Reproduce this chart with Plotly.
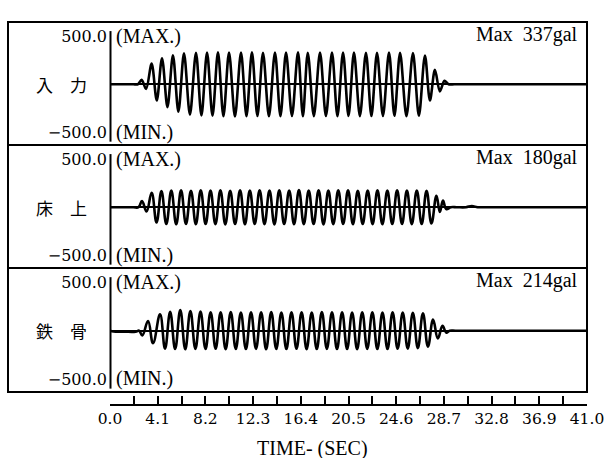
import plotly.graph_objects as go

# ---------------- data ----------------
panel_names = ["入\u3000力", "床\u3000上", "鉄\u3000骨"]
max_labels = ["Max\u00a0\u00a0337gal", "Max\u00a0\u00a0180gal", "Max\u00a0\u00a0214gal"]

# 入力 (input) : time of each extremum [s] and acceleration [gal]
t1 = [0.0, 1.0, 2.0, 2.40, 2.72, 3.10, 3.58, 4.02, 4.47, 4.94, 5.41, 5.88, 6.36, 6.87, 7.39, 7.86,
      8.34, 8.81, 9.28, 9.75, 10.23, 10.74, 11.26, 11.73, 12.20, 12.67, 13.15, 13.66,
      14.18, 14.65, 15.13, 15.64, 16.16, 16.58, 17.00, 17.52, 18.05, 18.56, 19.08, 19.55,
      20.03, 20.50, 20.97, 21.48, 22.00, 22.47, 22.95, 23.46, 23.98, 24.45, 24.93, 25.48,
      26.04, 26.55, 27.07, 27.50, 27.93, 28.35, 28.75, 29.10, 29.6, 31.0, 34.0, 37.0, 41.0]
a1 = [0, 0, 0, 0, 45, -50, 215, -170, 272, -240, 302, -288, 322, -318, 328, -326, 331, -330,
      333, -334, 332, -337, 330, -333, 334, -332, 329, -335, 332, -333, 330, -332, 333, -334,
      329, -333, 331, -332, 330, -334, 332, -331, 330, -333, 329, -332, 327, -331, 330, -330,
      328, -333, 325, -330, 300, -170, 150, -75, 35, 0, 0, 0, 0, 0, 0]

# 床上 (floor)
t2 = [0.0, 1.0, 2.0, 2.45, 2.75, 3.14, 3.58, 4.00, 4.42, 4.84, 5.27, 5.69, 6.11, 6.53, 6.96, 7.38,
      7.80, 8.22, 8.64, 9.06, 9.49, 9.91, 10.33, 10.75, 11.18, 11.60, 12.02, 12.44, 12.86,
      13.28, 13.71, 14.13, 14.55, 14.97, 15.40, 15.82, 16.24, 16.66, 17.08, 17.50, 17.93,
      18.35, 18.77, 19.19, 19.62, 20.04, 20.46, 20.88, 21.30, 21.72, 22.15, 22.57, 22.99,
      23.41, 23.84, 24.26, 24.68, 25.10, 25.52, 25.94, 26.37, 26.79, 27.21, 27.63, 28.06,
      28.35, 28.62, 28.90, 29.3, 29.8, 30.6, 31.1, 31.6, 32.2, 35.0, 38.0, 41.0]
a2 = [0, 0, 0, 0, 65, -45, 150, -160, 170, -176, 173, -178, 176, -175, 172, -178, 178, -176,
      174, -177, 176, -179, 172, -176, 177, -178, 174, -175, 178, -177, 173, -179, 176, -176,
      175, -178, 180, -177, 174, -176, 177, -179, 173, -177, 176, -175, 178, -178, 172, -176,
      175, -177, 177, -178, 174, -176, 176, -175, 173, -177, 175, -176, 172, -170, 120, -50,
      70, -20, 0, 0, 0, 12, 0, 0, 0, 0, 0]

# 鉄骨 (steel frame)
t3 = [0.0, 0.3, 1.2, 2.2, 2.5, 2.78, 3.27, 3.70, 4.30, 4.73, 5.17, 5.60, 6.04, 6.47, 6.91, 7.34,
      7.78, 8.21, 8.65, 9.08, 9.51, 9.94, 10.38, 10.81, 11.25, 11.68, 12.12, 12.55, 12.99,
      13.42, 13.86, 14.29, 14.73, 15.16, 15.60, 16.03, 16.47, 16.90, 17.34, 17.77, 18.21,
      18.64, 19.08, 19.51, 19.95, 20.38, 20.81, 21.24, 21.68, 22.11, 22.55, 22.98, 23.42,
      23.85, 24.29, 24.72, 25.16, 25.59, 26.03, 26.46, 26.90, 27.33, 27.77, 28.18, 28.58,
      28.90, 29.20, 29.7, 31.0, 34.0, 37.0, 41.0]
a3 = [0, -8, -10, -10, 0, -50, 100, -130, 170, -185, 195, -190, 214, -192, 205, -188, 198, -190,
      192, -187, 190, -191, 193, -189, 188, -190, 191, -188, 190, -192, 194, -189, 189, -190,
      192, -187, 190, -191, 188, -190, 193, -188, 190, -190, 191, -189, 189, -191, 192, -188,
      190, -190, 188, -189, 191, -187, 189, -185, 187, -180, 180, -165, 115, -80, 50, -20, 0,
      0, 0, 0, 0, 0]

series_t = [t1, t2, t3]
series_a = [a1, a2, a3]

time_ticks = [0.0, 2.05, 4.1, 6.15, 8.2, 10.25, 12.3, 14.35, 16.4, 18.45, 20.5, 22.55,
              24.6, 26.65, 28.7, 30.75, 32.8, 34.85, 36.9, 38.95, 41.0]
time_labels = ["0.0", "", "4.1", "", "8.2", "", "12.3", "", "16.4", "", "20.5", "",
               "24.6", "", "28.7", "", "32.8", "", "36.9", "", "41.0"]
y_tickvals = [500, -500]
y_ticktext = ["500.0", "\u2212500.0"]

# ---------------- layout geometry ----------------
W, H = 604, 458
def px(x):
    return x / W
def py(y):
    return 1 - y / H

X0, X1 = px(110), px(587)
panel_edges = [22, 145, 268, 392]
yr = [-635, 650]
serif = "Liberation Serif"
numfont = dict(family="DejaVu Serif", size=16, color="black")
tickfont_x = dict(family="DejaVu Serif", size=15.5, color="black")

fig = go.Figure()
axis_ids = ["", "2", "3"]
smooth = [0.9, 1.2, 1.2]
for i in range(3):
    fig.add_trace(go.Scatter(
        x=series_t[i], y=series_a[i], mode="lines",
        line=dict(color="black", width=2.6, shape="spline", smoothing=smooth[i]),
        xaxis="x" + axis_ids[i], yaxis="y" + axis_ids[i], hoverinfo="skip"))

# invisible trace so the overlaid time axes are drawn
fig.add_trace(go.Scatter(x=[0, 41], y=[0, 0], mode="lines", line=dict(width=0),
                         xaxis="x4", yaxis="y", hoverinfo="skip", opacity=0))

layout = dict(width=W, height=H, margin=dict(l=0, r=0, t=0, b=0, autoexpand=False),
              paper_bgcolor="white", plot_bgcolor="white", showlegend=False)

for i in range(3):
    top, bot = panel_edges[i], panel_edges[i + 1]
    xa = "xaxis" + axis_ids[i]
    ya = "yaxis" + axis_ids[i]
    layout[xa] = dict(domain=[X0, X1], range=[0, 41], visible=False, automargin=False,
                      anchor="y" + axis_ids[i])
    layout[ya] = dict(domain=[py(bot), py(top)], range=yr, anchor="x" + axis_ids[i],
                      tickvals=y_tickvals, ticktext=y_ticktext, ticks="",
                      showgrid=False, showline=False, zeroline=True, automargin=False,
                      zerolinecolor="black", zerolinewidth=1.6,
                      tickfont=numfont, ticklabelstandoff=2)

layout["xaxis4"] = dict(overlaying="x", anchor="free", position=py(405), side="bottom",
                        range=[0, 41], tickvals=time_ticks, ticktext=time_labels,
                        ticks="inside", ticklen=8, tickwidth=1.5, tickcolor="black",
                        showline=True, linecolor="black", linewidth=1.5, automargin=False,
                        ticklabeloverflow="allow",
                        showgrid=False, zeroline=False, tickfont=tickfont_x)
layout["xaxis5"] = dict(overlaying="x", anchor="free", position=py(12), side="top",
                        range=[0, 41], tickvals=time_ticks, ticks="inside", ticklen=5,
                        tickwidth=1.5, tickcolor="black", showticklabels=False,
                        showline=True, linecolor="black", linewidth=1.5, automargin=False,
                        showgrid=False, zeroline=False)
fig.update_layout(**layout)

shapes = []
# outer frame and separators
shapes.append(dict(type="rect", xref="paper", yref="paper", x0=px(8), x1=px(587),
                   y0=py(392), y1=py(22), line=dict(color="black", width=2)))
for yy in (145, 268):
    shapes.append(dict(type="line", xref="paper", yref="paper", x0=px(8), x1=px(587),
                       y0=py(yy), y1=py(yy), line=dict(color="black", width=2)))
annotations = []
for i in range(3):
    yref = "y" + axis_ids[i]
    shapes.append(dict(type="line", xref="paper", yref=yref, x0=px(110.5), x1=px(110.5),
                       y0=-600, y1=555, line=dict(color="black", width=2)))
    annotations.append(dict(text="(MAX.)", xref="paper", yref=yref, x=px(114), y=500,
                            xanchor="left", yanchor="middle", showarrow=False,
                            font=dict(family=serif, size=20, color="black")))
    annotations.append(dict(text="(MIN.)", xref="paper", yref=yref, x=px(114), y=-500,
                            xanchor="left", yanchor="middle", showarrow=False,
                            font=dict(family=serif, size=20, color="black")))
    annotations.append(dict(text=max_labels[i], xref="paper", yref=yref, x=px(580), y=520,
                            xanchor="right", yanchor="middle", showarrow=False,
                            font=dict(family=serif, size=20, color="black")))
    annotations.append(dict(text=panel_names[i], xref="paper", yref=yref, x=px(61), y=0,
                            xanchor="center", yanchor="middle", showarrow=False,
                            font=dict(family="Noto Sans CJK JP", size=17, color="black")))
annotations.append(dict(text="TIME-\u00a0(SEC)", xref="paper", yref="paper", x=px(312),
                        y=py(448), xanchor="center", yanchor="middle", showarrow=False,
                        borderpad=0, font=dict(family=serif, size=20, color="black")))
fig.update_layout(shapes=shapes, annotations=annotations)

fig.write_html("out.html")
